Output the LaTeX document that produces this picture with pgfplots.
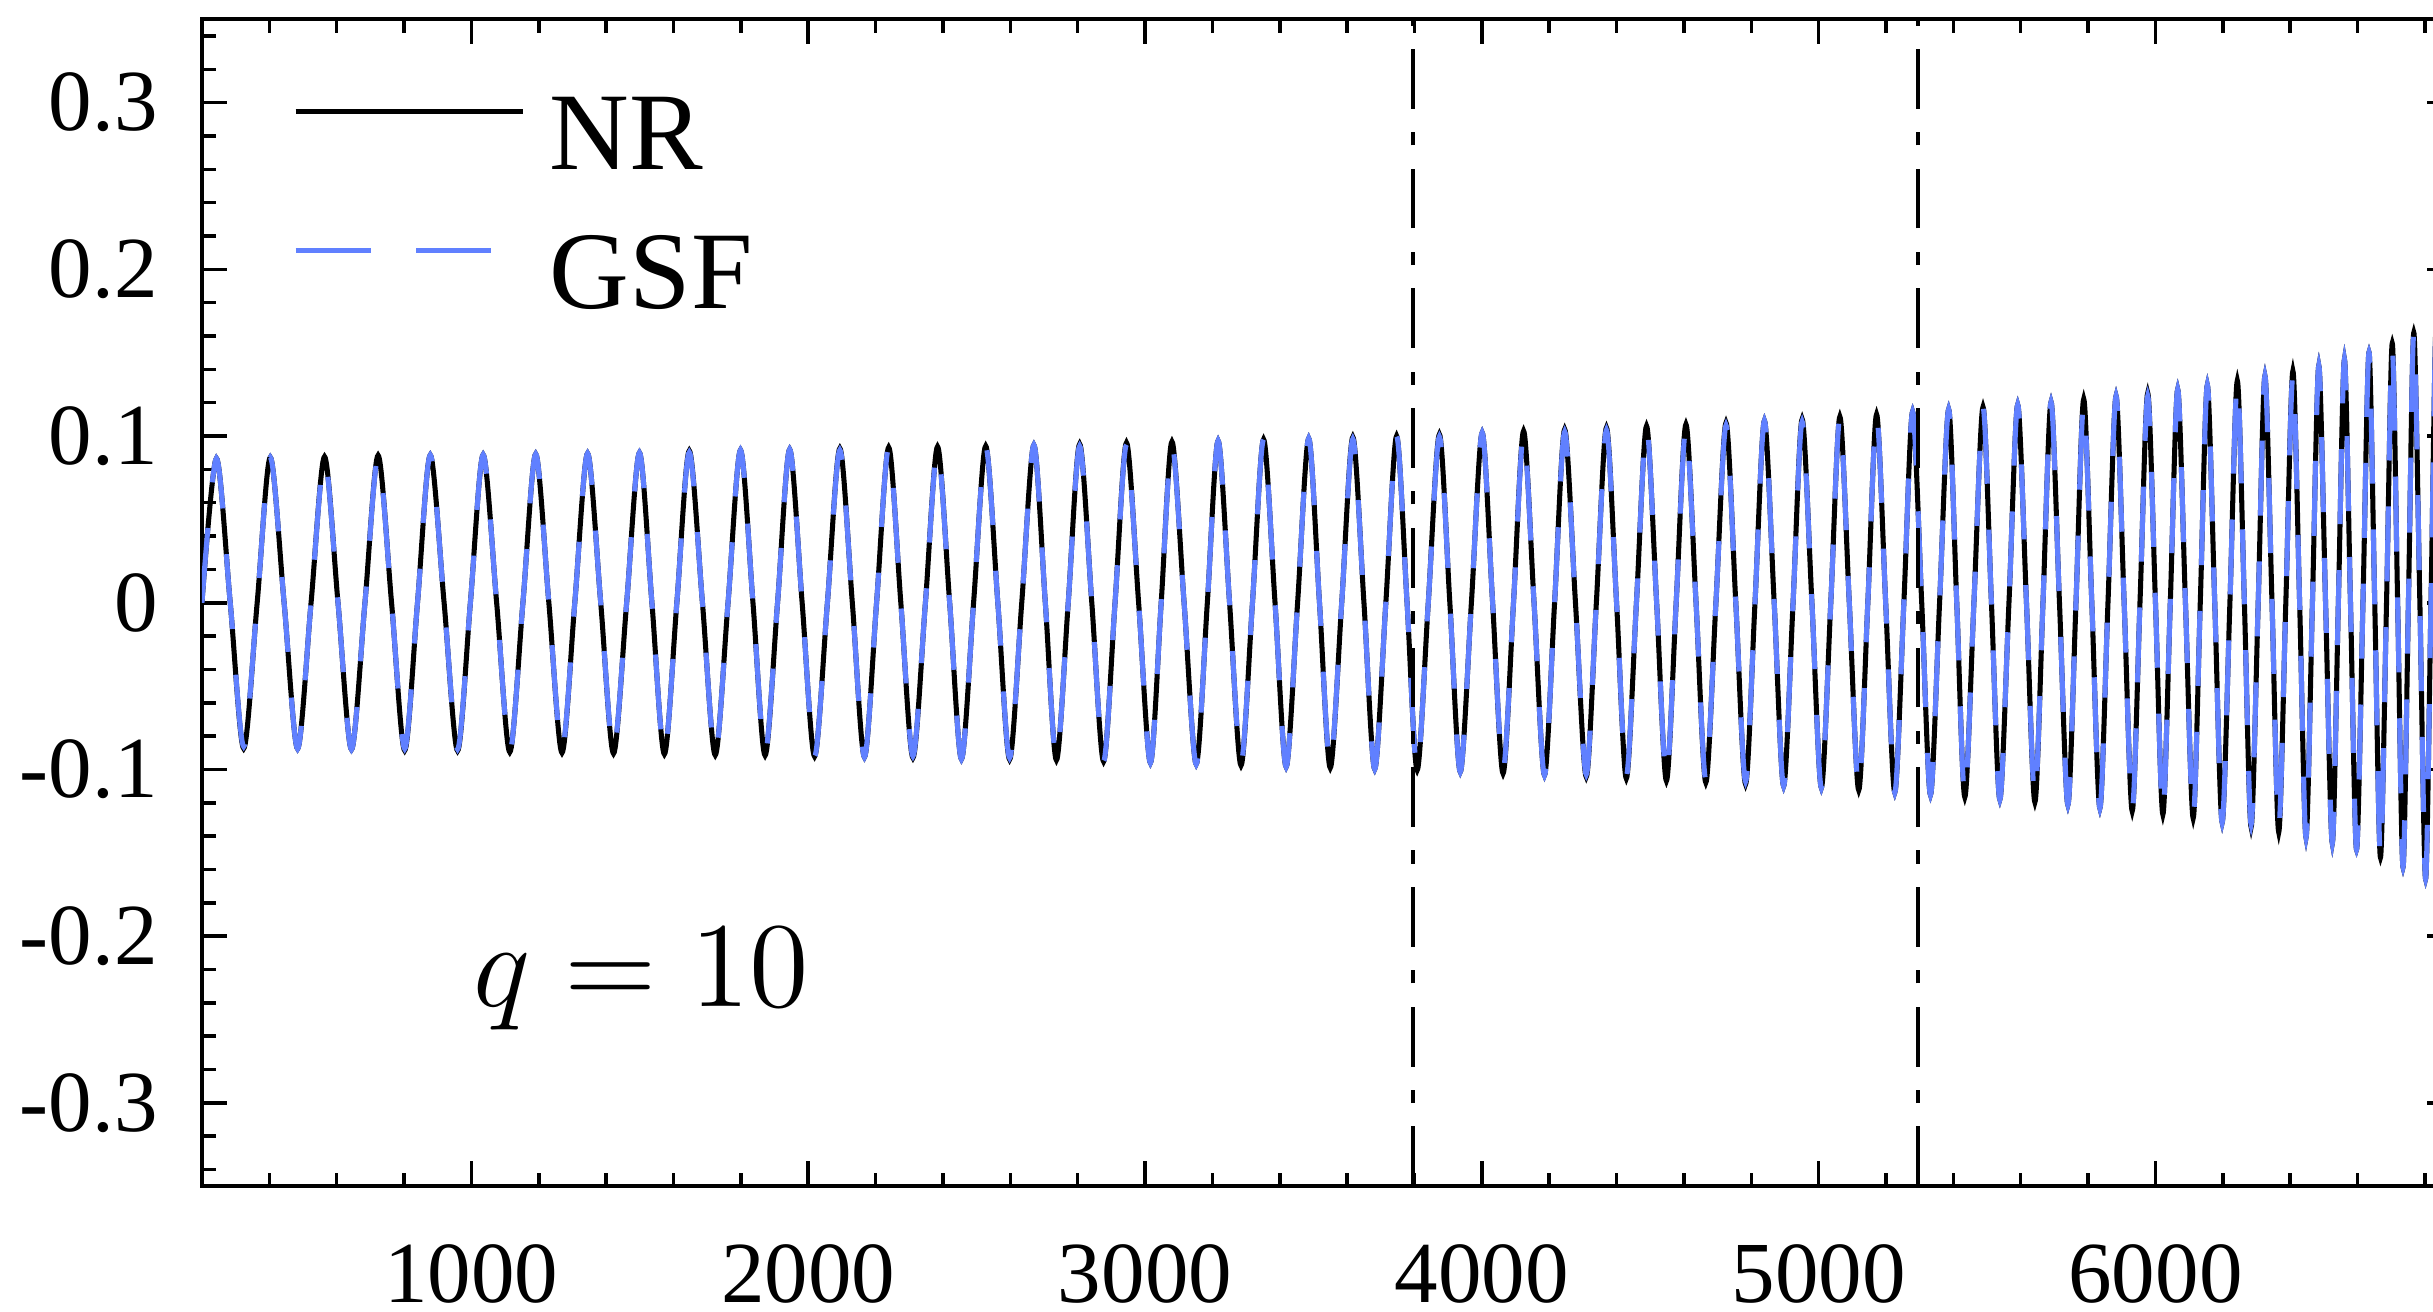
\RequirePackage{fix-cm}
\documentclass[border=0pt]{standalone}
\usepackage[no-math]{fontspec}
\setmainfont{Liberation Serif}
\usepackage{pgfplots}
\usepackage{pgfplotstable}
\pgfplotsset{compat=1.18}

\definecolor{gsfblue}{RGB}{96,128,255}

% waveform: peaks, troughs and zero crossings
\pgfplotstableread{
x      nr       gsf
200    0        0
243    0.0866   0.0866
284    0        0
324   -0.0874  -0.0862
364    0        0
403    0.0872   0.0872
444    0        0
484   -0.0876  -0.0876
524    0        0
564    0.0876   0.0866
604    0        0
644   -0.0880  -0.0880
684    0        0
723    0.0884   0.0874
763    0        0
802   -0.0886  -0.0876
840    0        0
878    0.0886   0.0886
919    0        0
959   -0.0888  -0.0878
997    0        0
1035   0.0888   0.0888
1075   0        0
1114  -0.0896  -0.0896
1153   0        0
1191   0.0892   0.0892
1230   0        0
1269  -0.0900  -0.0890
1307   0        0
1345   0.0896   0.0896
1384   0        0
1422  -0.0904  -0.0894
1461   0        0
1499   0.0900   0.0900
1536   0        0
1573  -0.0908  -0.0908
1610   0        0
1647   0.0912   0.0902
1686   0        0
1724  -0.0914  -0.0914
1762   0        0
1799   0.0916   0.0916
1836   0        0
1872  -0.0916  -0.0906
1909   0        0
1945   0.0920   0.0920
1982   0        0
2019  -0.0922  -0.0922
2057   0        0
2094   0.0926   0.0916
2131   0        0
2167  -0.0926  -0.0926
2203   0        0
2239   0.0932   0.0932
2275   0        0
2311  -0.0930  -0.0920
2348   0        0
2384   0.0936   0.0926
2420   0        0
2455  -0.0938  -0.0938
2491   0        0
2527   0.0940   0.0940
2563   0        0
2598  -0.0940  -0.0930
2634   0        0
2670   0.0946   0.0946
2704   0        0
2737  -0.0944  -0.0944
2772   0        0
2806   0.0952   0.0940
2842   0        0
2877  -0.0952  -0.0952
2911   0        0
2945   0.0960   0.0948
2981   0        0
3016  -0.0960  -0.0960
3048   0        0
3080   0.0966   0.0954
3116   0        0
3152  -0.0968  -0.0968
3185   0        0
3217   0.0972   0.0972
3251   0        0
3285  -0.0976  -0.0964
3319   0        0
3352   0.0980   0.0980
3386   0        0
3419  -0.0984  -0.0984
3453   0        0
3486   0.0986   0.0986
3518   0        0
3550  -0.0990  -0.0978
3584   0        0
3617   0.0994   0.0982
3650   0        0
3682  -0.0998  -0.0998
3715   0        0
3747   0.1000   0.1000
3778   0        0
3808  -0.1004  -0.1004
3841   0        0
3874   0.1010   0.0996
3905   0        0
3936  -0.1014  -0.1014
3969   0        0
4001   0.1020   0.1020
4032   0        0
4063  -0.1024  -0.1010
4094   0        0
4124   0.1030   0.1016
4155   0        0
4186  -0.1034  -0.1034
4216   0        0
4246   0.1040   0.1026
4278   0        0
4310  -0.1044  -0.1030
4340   0        0
4370   0.1050   0.1036
4400   0        0
4429  -0.1054  -0.1040
4459   0        0
4489   0.1060   0.1060
4519   0        0
4548  -0.1068  -0.1054
4577   0        0
4606   0.1070   0.1054
4636   0        0
4665  -0.1078  -0.1062
4695   0        0
4725   0.1080   0.1064
4754   0        0
4783  -0.1088  -0.1072
4811   0        0
4839   0.1092   0.1092
4868   0        0
4896  -0.1100  -0.1100
4924   0        0
4951   0.1102   0.1086
4980   0        0
5008  -0.1110  -0.1110
5036   0        0
5063   0.1116   0.1116
5091   0        0
5119  -0.1124  -0.1124
5146   0        0
5172   0.1130   0.1130
5199   0        0
5226  -0.1138  -0.1138
5253   0        0
5279   0.1146   0.1146
5306   0        0
5332  -0.1152  -0.1152
5359   0        0
5386   0.1160   0.1160
5410   0        0
5434  -0.1166  -0.1166
5461   0        0
5488   0.1174   0.1174
5513   0        0
5538  -0.1180  -0.1180
5565   0        0
5591   0.1188   0.1188
5617   0        0
5642  -0.1196  -0.1176
5666   0        0
5690   0.1204   0.1204
5715   0        0
5740  -0.1212  -0.1212
5764   0        0
5787   0.1222   0.1202
5811   0        0
5835  -0.1232  -0.1232
5859   0        0
5883   0.1240   0.1240
5907   0        0
5931  -0.1250  -0.1250
5954   0        0
5977   0.1258   0.1240
6000   0        0
6022  -0.1270  -0.1270
6044   0        0
6066   0.1280   0.1280
6089   0        0
6112  -0.1292  -0.1292
6133   0        0
6154   0.1306   0.1306
6176   0        0
6198  -0.1318  -0.1318
6221   0        0
6243   0.1332   0.1332
6264   0        0
6284  -0.1346  -0.1330
6305   0        0
6325   0.1360   0.1360
6346   0        0
6366  -0.1376  -0.1358
6387   0        0
6408   0.1390   0.1370
6428   0        0
6447  -0.1408  -0.1408
6466   0        0
6485   0.1422   0.1422
6505   0        0
6525  -0.1442  -0.1442
6543   0        0
6561   0.1460   0.1460
6579   0        0
6597  -0.1480  -0.1480
6616   0        0
6634   0.1502   0.1502
6651   0        0
6668  -0.1528  -0.1528
6686   0        0
6703   0.1556   0.1530
6719   0        0
6735  -0.1586  -0.1586
6751   0        0
6767   0.1620   0.1620
6785   0        0
6802  -0.1656  -0.1656
6818   0        0
6834   0.1696   0.1696
6850   0        0
6866  -0.1740  -0.1740
6882   0        0
}\wave

\begin{document}
\begin{tikzpicture}
\begin{axis}[
    name=ax,
    scale only axis,
    width=10.172cm, height=5.276cm,
    xmin=200, xmax=6880,
    ymin=-0.35, ymax=0.35,
    axis line style={line width=0.5pt},
    xtick={1000,2000,3000,4000,5000,6000},
    xticklabels={1000,2000,3000,4000,5000,6000},
    minor xtick={400,600,800,1200,1400,1600,1800,2200,2400,2600,2800,3200,3400,3600,3800,4200,4400,4600,4800,5200,5400,5600,5800,6200,6400,6600,6800},
    ytick={-0.3,-0.2,-0.1,0,0.1,0.2,0.3},
    yticklabels={-0.3,-0.2,-0.1,0,0.1,0.2,0.3},
    minor ytick={-0.34,-0.32,-0.28,-0.26,-0.24,-0.22,-0.18,-0.16,-0.14,-0.12,-0.08,-0.06,-0.04,-0.02,0.02,0.04,0.06,0.08,0.12,0.14,0.16,0.18,0.22,0.24,0.26,0.28,0.32,0.34},
    tick align=inside,
    major tick length=3.2pt,
    minor tick length=1.75pt,
    tick style={black, line width=0.45pt},
    ticklabel style={font=\fontsize{11.2}{13}\selectfont},
    xticklabel style={inner sep=0pt, yshift=-7.3pt},
    yticklabel style={inner sep=0pt, xshift=-5.5pt},
    legend style={draw=none, fill=none, inner sep=0pt, outer sep=0pt,
        at={(axis description cs:0.0405,0.9334)}, anchor=north west,
        font=\fontsize{14.2}{16}\selectfont,
        nodes={inner sep=0pt}, row sep=7pt, column sep=3.2pt},
    legend cell align=left,
    legend image code/.code={\draw[#1] (0pt,3.5pt) -- (29.2pt,3.5pt);},
]
\addplot[black, line width=0.65pt, smooth] table[x=x, y=nr] {\wave};
\addlegendentry{NR}
\addplot[gsfblue, line width=0.65pt, smooth, dash pattern=on 9.65pt off 5.9pt] table[x=x, y=gsf] {\wave};
\addlegendentry{GSF}

\addplot[black, line width=0.45pt, dash pattern=on 7.7pt off 3pt on 1.7pt off 3pt, forget plot]
    coordinates {(3795,-0.35) (3795,0.35)};
\addplot[black, line width=0.45pt, dash pattern=on 7.7pt off 3pt on 1.7pt off 3pt, forget plot]
    coordinates {(5295,-0.35) (5295,0.35)};

\node[anchor=base west, inner sep=0pt, font=\fontsize{15.6}{18}\selectfont]
    at (axis cs:1003,-0.2424) {$q = 10$};
\end{axis}
\pgfresetboundingbox
\path[use as bounding box] ([shift={(-0.913cm,-0.565cm)}]ax.south west)
    rectangle ([shift={(10.087cm,5.363cm)}]ax.south west);
\end{tikzpicture}
\end{document}
